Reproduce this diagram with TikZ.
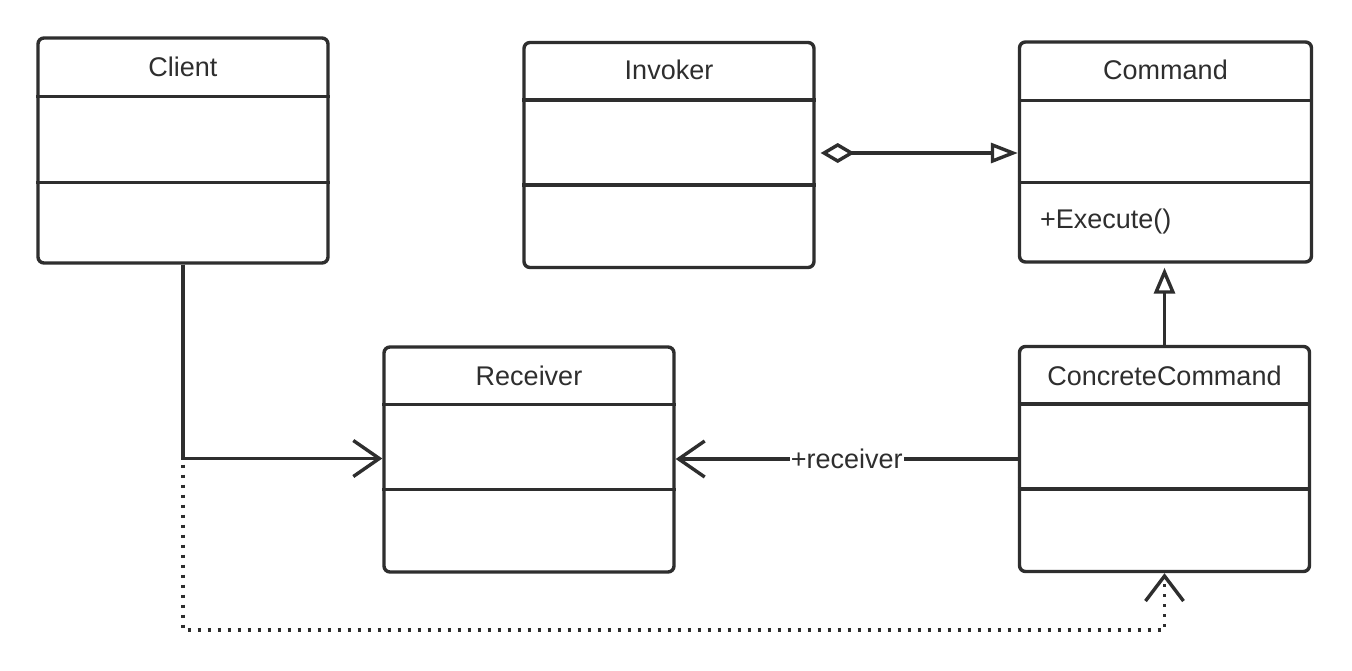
\documentclass[tikz,border=0pt]{standalone}
\usepackage{fontspec}
\setmainfont{Liberation Sans}
\usetikzlibrary{arrows.meta,calc}
\definecolor{ink}{HTML}{2E2E2E}
\begin{document}
\begin{tikzpicture}[x=1pt,y=-1pt,
  cls/.style={draw=ink,line width=3.4pt,rounded corners=6pt,minimum width=290pt,minimum height=225pt,inner sep=0pt,fill=white},
  ttl/.style={text=ink,font=\fontsize{27}{31}\selectfont,inner sep=0pt},
  div/.style={draw=ink,line width=3.4pt},
  conn/.style={draw=ink,line width=3.4pt},
  open barb/.style={-{Straight Barb[length=26pt,width=36pt]}},
  dots/.style={draw=ink,line width=3.4pt,dash pattern=on 3pt off 7pt}
  ]
\useasboundingbox[fill=white] (0,0) rectangle (1352,670);

% classes
\node[cls] (client) at (183,150.5) {};
\node[cls] (invoker) at (669,155) {};
\node[cls,minimum width=292pt,minimum height=220pt] (command) at (1165.5,152) {};
\node[cls] (receiver) at (529,459.5) {};
\node[cls] (concrete) at (1164.5,459) {};

% titles
\node[ttl] (clientT) at ($(client.north)+(0,31)$) {Client};
\node[ttl] (invokerT) at ($(invoker.north)+(0,29)$) {Invoker};
\node[ttl] (commandT) at ($(command.north)+(0,30)$) {Command};
\node[ttl] (receiverT) at ($(receiver.north)+(0,31)$) {Receiver};
\node[ttl] (concreteT) at ($(concrete.north)+(0,31)$) {ConcreteCommand};
\node[ttl,anchor=west] (execT) at ($(command.north west)+(22,181)$) {+Execute()};

% dividers
\foreach \c/\a/\b in {client/60/146, invoker/59/144, command/60/142, receiver/59/144, concrete/59/144}{
  \draw[div] ($(\c.north west)+(0,\a)$) -- ($(\c.north east)+(0,\a)$);
  \draw[div] ($(\c.north west)+(0,\b)$) -- ($(\c.north east)+(0,\b)$);
}

% connectors
\coordinate (low) at (0,630);
\draw[conn,{Diamond[open,length=34pt,width=20pt]}-{Triangle[open,length=27pt,width=20pt]}]
  ($(invoker.east)+(5,-2)$) -- ($(command.west)+(0,1)$);
\draw[conn,-{Triangle[open,length=26pt,width=21pt]},shorten >=4pt] (concrete.north) -- (command.south -| concrete.north);
\draw[conn,open barb] (concrete.west) -- (receiver.east |- concrete.west)
  node[midway,ttl,fill=white,inner xsep=1pt,inner ysep=2pt] (recvL) {+receiver};
\draw[conn,open barb] (client.south) |- ($(receiver.west)+(0,-1)$);
\draw[dots,-{Straight Barb[length=25pt,width=38pt]}] (client.south) -- (client.south |- low) -| (concrete.south);
\end{tikzpicture}
\end{document}
